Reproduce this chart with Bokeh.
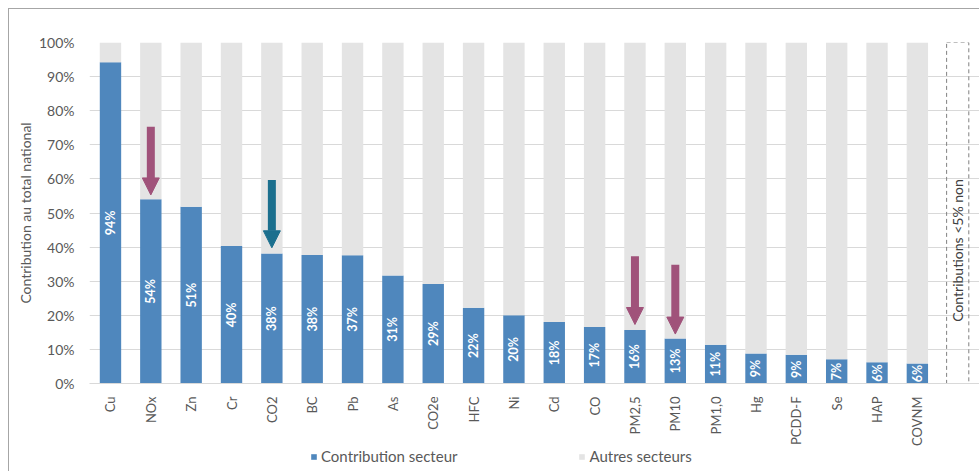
import math
from bokeh.plotting import figure
from bokeh.layouts import column
from bokeh.models import (Range1d, FixedTicker, Arrow, NormalHead, Label, Legend,
                          LegendItem, ColumnDataSource, PrintfTickFormatter)
from bokeh.core.properties import value
from bokeh.embed import file_html
from bokeh.resources import INLINE

# ---- data ----
categories = ["Cu", "NOx", "Zn", "Cr", "CO2", "BC", "Pb", "As", "CO2e", "HFC", "Ni",
              "Cd", "CO", "PM2,5", "PM10", "PM1,0", "Hg", "PCDD-F", "Se", "HAP", "COVNM"]
secteur = [94.2, 54.0, 51.8, 40.3, 38.1, 37.7, 37.6, 31.7, 29.2, 22.2, 20.0,
           18.0, 16.6, 15.7, 13.2, 11.4, 8.8, 8.4, 7.1, 6.2, 5.9]
autres = [5.8, 46.0, 48.2, 59.7, 61.9, 62.3, 62.4, 68.3, 70.8, 77.8, 80.0,
          82.0, 83.4, 84.3, 86.8, 88.6, 91.2, 91.6, 92.9, 93.8, 94.1]
bar_labels = ["94%", "54%", "51%", "40%", "38%", "38%", "37%", "31%", "29%", "22%", "20%",
              "18%", "17%", "16%", "13%", "11%", "9%", "9%", "7%", "6%", "6%"]
series_names = ["Contribution secteur", "Autres secteurs"]
y_ticks = [0, 10, 20, 30, 40, 50, 60, 70, 80, 90, 100]

arrow_cats = ["NOx", "CO2", "PM2,5", "PM10"]
arrow_start = [75.3, 59.7, 37.3, 34.8]
arrow_end = [55.3, 39.8, 17.3, 14.5]
arrow_colors = ["#a0527a", "#1b6f8e", "#a0527a", "#a0527a"]

box_text = "Contributions <5% non"

# ---- styles ----
BLUE = "#4f87bd"
GRAY = "#e4e4e4"
TXT = "#595959"
FONT = "Lato"
FRAME_BORDER = "1px solid #a6a6a6"

x_idx = list(range(len(categories)))
src = ColumnDataSource(dict(
    x=x_idx, secteur=secteur, autres=autres, labels=bar_labels,
    mid=[v / 2 for v in secteur],
))

p = figure(width=971, height=439, x_range=Range1d(-0.52, 21.54), y_range=Range1d(0, 100),
           output_backend="svg", toolbar_location=None,
           min_border_left=80, min_border_right=1, min_border_top=33, min_border_bottom=64)
p.margin = (8, 0, 0, 8)
p.styles = {"border-left": FRAME_BORDER, "border-top": FRAME_BORDER}
p.outline_line_color = None
p.background_fill_color = "white"
p.border_fill_color = "white"

rs = p.vbar_stack(["secteur", "autres"], x="x", width=0.53, source=src,
                  fill_color=[BLUE, GRAY], line_color=None)

p.text(x="x", y="mid", text="labels", source=src, angle=math.pi / 2,
       text_align="center", text_baseline="middle", text_color="white",
       text_font=value(FONT), text_font_style="bold", text_font_size="12.5px")

# dashed box for the "<5%" slot
box_x = len(categories)
box_w = 0.55
p.quad(left=[box_x - box_w / 2], right=[box_x + box_w / 2], bottom=[0], top=[100],
       fill_color=None, line_color="#808080", line_dash="4 3", line_width=1)
p.add_layout(Label(x=box_x, y=39, text=box_text, angle=math.pi / 2,
                   text_align="center", text_baseline="middle",
                   text_font_size="14px", text_color="#404040", text_font=FONT))

# arrows
for cat, y0, y1, c in zip(arrow_cats, arrow_start, arrow_end, arrow_colors):
    xi = categories.index(cat)
    p.add_layout(Arrow(x_start=xi, y_start=y0, x_end=xi, y_end=y1,
                       line_color=c, line_width=8,
                       end=NormalHead(size=17, fill_color=c, line_color=c, line_width=1)))

# grid
p.xgrid.visible = False
p.ygrid.ticker = FixedTicker(ticks=y_ticks)
p.ygrid.grid_line_color = "#d9d9d9"
p.ygrid.grid_line_width = 1

# y axis
p.yaxis.ticker = FixedTicker(ticks=y_ticks)
p.yaxis.formatter = PrintfTickFormatter(format="%d%%")
p.yaxis.axis_line_color = None
p.yaxis.major_tick_line_color = None
p.yaxis.minor_tick_line_color = None
p.yaxis.major_label_text_font = FONT
p.yaxis.major_label_text_font_size = "14px"
p.yaxis.major_label_text_color = TXT
p.yaxis.major_label_standoff = 9
p.yaxis.axis_label = "Contribution au total national"
p.yaxis.axis_label_text_font = FONT
p.yaxis.axis_label_text_font_size = "14px"
p.yaxis.axis_label_text_font_style = "normal"
p.yaxis.axis_label_text_color = TXT
p.yaxis.axis_label_standoff = 2

# x axis
p.xaxis.ticker = FixedTicker(ticks=x_idx)
p.xaxis.major_label_overrides = {i: c for i, c in enumerate(categories)}
p.xaxis.major_label_orientation = math.pi / 2
p.xaxis.axis_line_color = "#d9d9d9"
p.xaxis.major_tick_line_color = None
p.xaxis.minor_tick_line_color = None
p.xaxis.major_label_text_font = FONT
p.xaxis.major_label_text_font_size = "13px"
p.xaxis.major_label_text_color = TXT
p.xaxis.major_label_standoff = 7

# ---- legend strip ----
pl = figure(width=971, height=24, x_range=Range1d(0, 1), y_range=Range1d(0, 1),
            output_backend="svg", toolbar_location=None,
            x_axis_location=None, y_axis_location=None,
            min_border_left=0, min_border_right=0, min_border_top=0, min_border_bottom=0)
pl.margin = (0, 0, 0, 8)
pl.styles = {"border-left": FRAME_BORDER}
pl.outline_line_color = None
pl.grid.visible = False
# legend-only renderers: their single bar lies outside the visible range
lr1 = pl.vbar(x=[5], top=[1], width=0.1, fill_color=BLUE, line_color=None)
lr2 = pl.vbar(x=[5], top=[1], width=0.1, fill_color=GRAY, line_color=None)
legend = Legend(items=[LegendItem(label=series_names[0], renderers=[lr1]),
                       LegendItem(label=series_names[1], renderers=[lr2])],
                orientation="horizontal", location=(221, 6),
                border_line_color=None, background_fill_alpha=0,
                padding=0, margin=0, spacing=121, glyph_width=7, glyph_height=7,
                label_height=18, label_standoff=4, label_text_font=FONT,
                label_text_font_size="15px", label_text_color=TXT)
pl.add_layout(legend)

layout = column(p, pl, spacing=0)
open("out.html", "w").write(file_html(layout, INLINE))
